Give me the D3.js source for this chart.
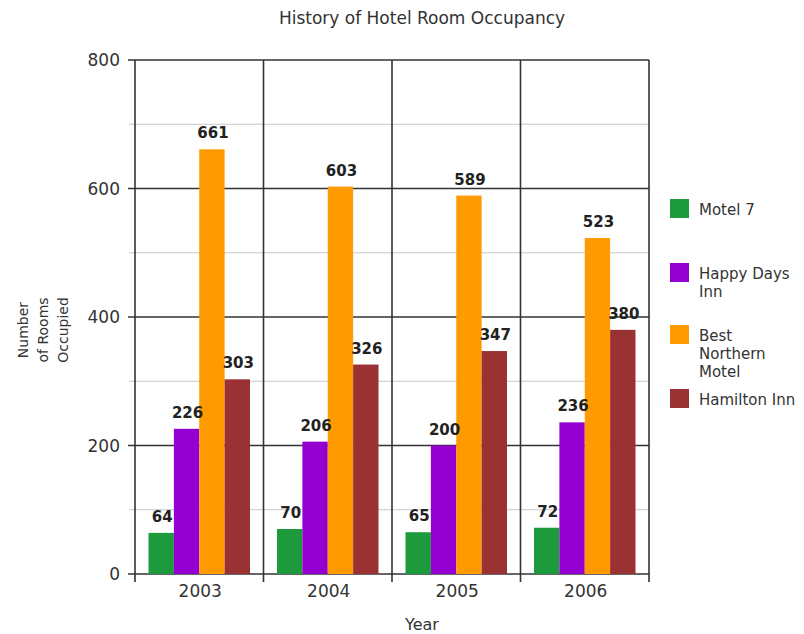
<!DOCTYPE html>
<html>
<head>
<meta charset="utf-8">
<script src="https://cdn.jsdelivr.net/npm/d3@7"></script>
<style>
  body { margin: 0; background: #fff; }
  text { font-family: "DejaVu Sans", "Liberation Sans", Arial, sans-serif; fill: #333; }
</style>
</head>
<body>
<div id="chart"></div>
<script>
// data
const years = ["2003", "2004", "2005", "2006"];
const hotels = ["Motel 7", "Happy Days Inn", "Best Northern Motel", "Hamilton Inn"];
const motel7 = [64, 70, 65, 72];
const happyDays = [226, 206, 200, 236];
const bestNorthern = [661, 603, 589, 523];
const hamilton = [303, 326, 347, 380];
const yTicks = [0, 200, 400, 600, 800];
const yMinor = [100, 300, 500, 700];

const colors = ["#1c9a3c", "#9300d0", "#ff9a00", "#9a3233"];
const legendLines = [["Motel 7"], ["Happy Days", "Inn"], ["Best", "Northern", "Motel"], ["Hamilton Inn"]];
const yTitleLines = ["Number", "of Rooms", "Occupied"];

const series = [motel7, happyDays, bestNorthern, hamilton];
const rows = years.map((y, i) => ({year: y, values: hotels.map((h, j) => ({hotel: h, idx: j, value: series[j][i]}))}));

const width = 804, height = 634;
const margin = {top: 60, left: 135};
const plotW = 649 - margin.left;
const plotH = 574 - margin.top;

let svg = d3.select("#chart").append("svg")
    .attr("width", width)
    .attr("height", height);

// title
svg.append("text")
    .attr("x", 422).attr("y", 24)
    .attr("text-anchor", "middle")
    .style("font-size", "17px")
    .text("History of Hotel Room Occupancy");

let g = svg.append("g")
    .attr("transform", "translate(" + margin.left + "," + margin.top + ")");

let x0 = d3.scaleBand().domain(years).range([0, plotW]).padding(0);
let x1 = d3.scaleBand().domain(d3.range(hotels.length))
    .range([13.5, x0.bandwidth() - 13.5]).padding(0);
let y = d3.scaleLinear().domain([0, 800]).range([plotH, 0]);

// minor gridlines
g.selectAll(".minor").data(yMinor).enter().append("line")
    .attr("x1", -6).attr("x2", plotW)
    .attr("y1", d => y(d)).attr("y2", d => y(d))
    .attr("stroke", "#c8c8c8").attr("stroke-width", 1);

// major gridlines
g.selectAll(".major").data(yTicks).enter().append("line")
    .attr("x1", -7).attr("x2", plotW)
    .attr("y1", d => y(d)).attr("y2", d => y(d))
    .attr("stroke", "#333").attr("stroke-width", 1.6);

// vertical separators
let seps = years.map(d => x0(d)).concat([plotW]);
g.selectAll(".sep").data(seps).enter().append("line")
    .attr("x1", d => d).attr("x2", d => d)
    .attr("y1", 0).attr("y2", plotH + 8)
    .attr("stroke", "#333").attr("stroke-width", 1.6);

// y tick labels
g.selectAll(".ylab").data(yTicks).enter().append("text")
    .attr("x", -15).attr("y", d => y(d) + 6)
    .attr("text-anchor", "end")
    .style("font-size", "17px")
    .text(d => d);

// x tick labels
g.selectAll(".xlab").data(years).enter().append("text")
    .attr("x", d => x0(d) + x0.bandwidth() / 2 + 1)
    .attr("y", plotH + 23)
    .attr("text-anchor", "middle")
    .style("font-size", "17px")
    .text(d => d);

// bars
let groups = g.selectAll(".grp").data(rows).enter().append("g")
    .attr("transform", d => "translate(" + x0(d.year) + ",0)");

groups.selectAll("rect").data(d => d.values).enter().append("rect")
    .attr("x", d => x1(d.idx))
    .attr("y", d => y(d.value))
    .attr("width", x1.bandwidth())
    .attr("height", d => plotH - y(d.value))
    .attr("fill", d => colors[d.idx]);

groups.selectAll(".val").data(d => d.values).enter().append("text")
    .attr("x", d => x1(d.idx) + x1.bandwidth() / 2 + 1)
    .attr("y", d => y(d.value) - 11)
    .attr("text-anchor", "middle")
    .style("font-size", "15px")
    .style("font-weight", "bold")
    .style("fill", "#222")
    .text(d => d.value);

// axis titles
svg.append("text")
    .attr("x", 422).attr("y", 630)
    .attr("text-anchor", "middle")
    .style("font-size", "16px")
    .text("Year");

svg.append("text")
    .attr("transform", "translate(28,330) rotate(-90)")
    .attr("text-anchor", "middle")
    .style("font-size", "14px")
    .selectAll("tspan").data(yTitleLines).enter().append("tspan")
    .attr("x", 0)
    .attr("dy", (d, k) => k === 0 ? 0 : 20)
    .text(d => d);

// legend
let legendTop = [199, 263, 325, 389];
let leg = svg.selectAll(".leg").data(hotels).enter().append("g")
    .attr("transform", (d, i) => "translate(670," + legendTop[i] + ")");

leg.append("rect")
    .attr("width", 19).attr("height", 19)
    .attr("fill", (d, i) => colors[i]);

leg.append("text")
    .attr("x", 29).attr("y", 16)
    .style("font-size", "15px")
    .selectAll("tspan").data((d, i) => legendLines[i]).enter().append("tspan")
    .attr("x", 29)
    .attr("dy", (d, k) => k === 0 ? 0 : 18)
    .text(d => d);
</script>
</body>
</html>
